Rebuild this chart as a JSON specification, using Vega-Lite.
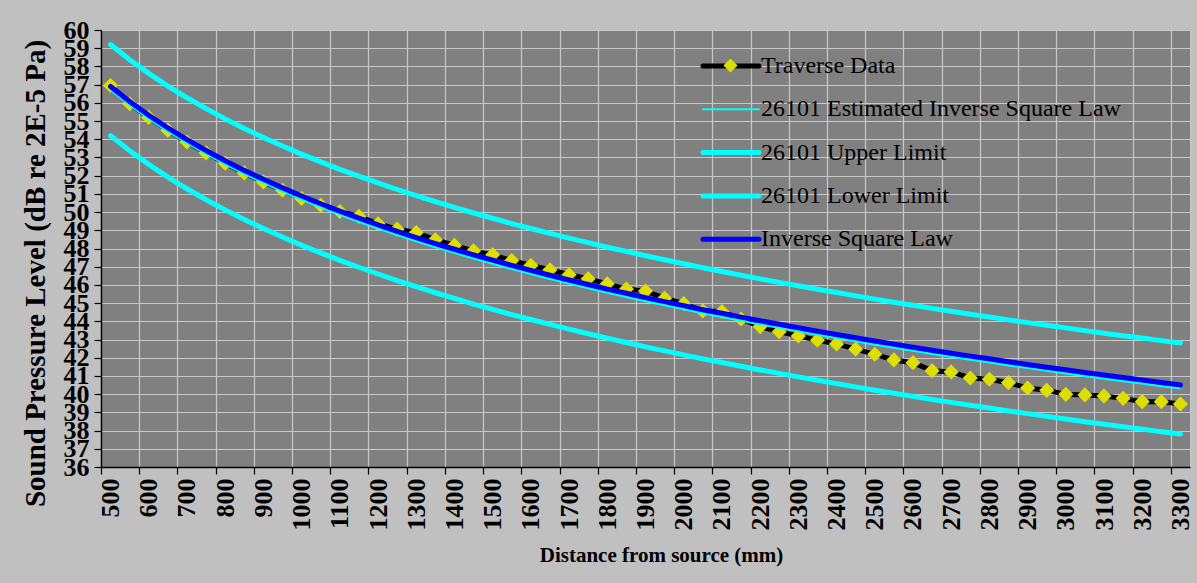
{
  "$schema": "https://vega.github.io/schema/vega-lite/v6.json",
  "width": 1089,
  "height": 437,
  "autosize": {"type": "none"},
  "padding": {"left": 101, "top": 30, "right": 7, "bottom": 116},
  "background": "#c0c0c0",
  "config": {
    "font": "Liberation Serif",
    "view": {"fill": "#808080", "stroke": "#c8c8c8", "strokeWidth": 1},
    "axis": {
      "gridColor": "#c8c8c8", "gridWidth": 1.2, "gridOpacity": 1,
      "domainColor": "#000000", "domainWidth": 1.5, "tickColor": "#000000", "tickWidth": 1.2,
      "labelColor": "#000000", "titleColor": "#000000",
      "labelFont": "Liberation Serif", "titleFont": "Liberation Serif",
      "labelFontWeight": "bold", "titleFontWeight": "bold"
    },
    "axisY": {
      "labelFontSize": 26, "labelPadding": 5, "tickSize": 7, "grid": true,
      "labelOverlap": false, "labelFlush": false,
      "titleFontSize": 29, "titleX": -66, "titleY": 243,
      "titleAlign": "center", "titleBaseline": "middle", "titleAngle": -90
    }
  },
  "data": {"values": [
    {"d":500,"t":56.95,"e":56.70,"i":56.90,"u":59.20,"l":54.20},
    {"d":550,"t":55.95,"e":55.87,"i":56.07,"u":58.37,"l":53.37},
    {"d":600,"t":55.20,"e":55.12,"i":55.32,"u":57.62,"l":52.62},
    {"d":650,"t":54.50,"e":54.42,"i":54.62,"u":56.92,"l":51.92},
    {"d":700,"t":53.85,"e":53.78,"i":53.98,"u":56.28,"l":51.28},
    {"d":750,"t":53.25,"e":53.18,"i":53.38,"u":55.68,"l":50.68},
    {"d":800,"t":52.68,"e":52.62,"i":52.82,"u":55.12,"l":50.12},
    {"d":850,"t":52.15,"e":52.09,"i":52.29,"u":54.59,"l":49.59},
    {"d":900,"t":51.65,"e":51.60,"i":51.80,"u":54.10,"l":49.10},
    {"d":950,"t":51.20,"e":51.13,"i":51.33,"u":53.63,"l":48.63},
    {"d":1000,"t":50.75,"e":50.68,"i":50.88,"u":53.18,"l":48.18},
    {"d":1050,"t":50.38,"e":50.26,"i":50.46,"u":52.76,"l":47.76},
    {"d":1100,"t":50.03,"e":49.85,"i":50.05,"u":52.35,"l":47.35},
    {"d":1150,"t":49.76,"e":49.47,"i":49.67,"u":51.97,"l":46.97},
    {"d":1200,"t":49.36,"e":49.10,"i":49.30,"u":51.60,"l":46.60},
    {"d":1250,"t":49.06,"e":48.74,"i":48.94,"u":51.24,"l":46.24},
    {"d":1300,"t":48.88,"e":48.40,"i":48.60,"u":50.90,"l":45.90},
    {"d":1350,"t":48.48,"e":48.07,"i":48.27,"u":50.57,"l":45.57},
    {"d":1400,"t":48.17,"e":47.76,"i":47.96,"u":50.26,"l":45.26},
    {"d":1450,"t":47.87,"e":47.45,"i":47.65,"u":49.95,"l":44.95},
    {"d":1500,"t":47.65,"e":47.16,"i":47.36,"u":49.66,"l":44.66},
    {"d":1550,"t":47.34,"e":46.87,"i":47.07,"u":49.37,"l":44.37},
    {"d":1600,"t":47.07,"e":46.60,"i":46.80,"u":49.10,"l":44.10},
    {"d":1650,"t":46.83,"e":46.33,"i":46.53,"u":48.83,"l":43.83},
    {"d":1700,"t":46.56,"e":46.07,"i":46.27,"u":48.57,"l":43.57},
    {"d":1750,"t":46.34,"e":45.82,"i":46.02,"u":48.32,"l":43.32},
    {"d":1800,"t":46.06,"e":45.57,"i":45.77,"u":48.07,"l":43.07},
    {"d":1850,"t":45.77,"e":45.34,"i":45.54,"u":47.84,"l":42.84},
    {"d":1900,"t":45.66,"e":45.10,"i":45.30,"u":47.60,"l":42.60},
    {"d":1950,"t":45.27,"e":44.88,"i":45.08,"u":47.38,"l":42.38},
    {"d":2000,"t":44.97,"e":44.66,"i":44.86,"u":47.16,"l":42.16},
    {"d":2050,"t":44.57,"e":44.44,"i":44.64,"u":46.94,"l":41.94},
    {"d":2100,"t":44.54,"e":44.24,"i":44.44,"u":46.74,"l":41.74},
    {"d":2150,"t":44.13,"e":44.03,"i":44.23,"u":46.53,"l":41.53},
    {"d":2200,"t":43.71,"e":43.83,"i":44.03,"u":46.33,"l":41.33},
    {"d":2250,"t":43.43,"e":43.64,"i":43.84,"u":46.14,"l":41.14},
    {"d":2300,"t":43.20,"e":43.45,"i":43.65,"u":45.95,"l":40.95},
    {"d":2350,"t":42.96,"e":43.26,"i":43.46,"u":45.76,"l":40.76},
    {"d":2400,"t":42.76,"e":43.08,"i":43.28,"u":45.58,"l":40.58},
    {"d":2450,"t":42.47,"e":42.90,"i":43.10,"u":45.40,"l":40.40},
    {"d":2500,"t":42.19,"e":42.72,"i":42.92,"u":45.22,"l":40.22},
    {"d":2550,"t":41.88,"e":42.55,"i":42.75,"u":45.05,"l":40.05},
    {"d":2600,"t":41.73,"e":42.38,"i":42.58,"u":44.88,"l":39.88},
    {"d":2650,"t":41.29,"e":42.21,"i":42.41,"u":44.71,"l":39.71},
    {"d":2700,"t":41.22,"e":42.05,"i":42.25,"u":44.55,"l":39.55},
    {"d":2750,"t":40.89,"e":41.89,"i":42.09,"u":44.39,"l":39.39},
    {"d":2800,"t":40.82,"e":41.74,"i":41.94,"u":44.24,"l":39.24},
    {"d":2850,"t":40.63,"e":41.58,"i":41.78,"u":44.08,"l":39.08},
    {"d":2900,"t":40.34,"e":41.43,"i":41.63,"u":43.93,"l":38.93},
    {"d":2950,"t":40.21,"e":41.28,"i":41.48,"u":43.78,"l":38.78},
    {"d":3000,"t":39.99,"e":41.14,"i":41.34,"u":43.64,"l":38.64},
    {"d":3050,"t":39.96,"e":40.99,"i":41.19,"u":43.49,"l":38.49},
    {"d":3100,"t":39.90,"e":40.85,"i":41.05,"u":43.35,"l":38.35},
    {"d":3150,"t":39.77,"e":40.71,"i":40.91,"u":43.21,"l":38.21},
    {"d":3200,"t":39.59,"e":40.58,"i":40.78,"u":43.08,"l":38.08},
    {"d":3250,"t":39.59,"e":40.44,"i":40.64,"u":42.94,"l":37.94},
    {"d":3300,"t":39.46,"e":40.31,"i":40.51,"u":42.81,"l":37.81}
  ]},
  "encoding": {
    "x": {
      "field": "d", "type": "quantitative",
      "scale": {"domain": [475, 3325], "nice": false, "zero": false},
      "axis": {
        "values": [475,575,675,775,875,975,1075,1175,1275,1375,1475,1575,1675,1775,1875,1975,2075,2175,2275,2375,2475,2575,2675,2775,2875,2975,3075,3175,3275],
        "labelExpr": "'' + (datum.value + 25)",
        "labelOffset": 9.55,
        "labelAngle": -90,
        "labelFontSize": 26,
        "labelOverlap": false,
        "labelFlush": false,
        "labelPadding": 4,
        "tickSize": 7,
        "grid": true,
        "title": "Distance from source (mm)",
        "titleFontSize": 21,
        "titlePadding": 14,
        "titleX": 560
      }
    }
  },
  "layer": [
    {
      "mark": {"type": "line", "strokeWidth": 5, "strokeCap": "butt"},
      "encoding": {
        "y": {
          "field": "t", "type": "quantitative",
          "title": "Sound Pressure Level (dB re 2E-5 Pa)",
          "scale": {"domain": [36, 60], "nice": false, "zero": false},
          "axis": {"values": [36,37,38,39,40,41,42,43,44,45,46,47,48,49,50,51,52,53,54,55,56,57,58,59,60]}
        },
        "color": {
          "datum": "Traverse Data",
          "scale": {
            "domain": ["Traverse Data", "26101 Estimated Inverse Square Law", "26101 Upper Limit", "26101 Lower Limit", "Inverse Square Law"],
            "range": ["#000000", "#00ffff", "#00ffff", "#00ffff", "#0000ff"]
          },
          "legend": {
            "orient": "none", "legendX": 618, "legendY": 24, "title": null,
            "padding": 0, "symbolType": "M-2,0H2", "symbolSize": 784,
            "labelFontSize": 24, "labelFont": "Liberation Serif", "labelFontWeight": "normal",
            "labelColor": "#000000", "labelLimit": 0, "rowPadding": 19.3, "labelOffset": 18,
            "symbolStrokeWidth": 5,
            "encode": {"symbols": {"update": {
              "strokeWidth": {"signal": "datum.value === '26101 Estimated Inverse Square Law' ? 2 : 5"},
              "strokeCap": {"value": "round"}
            }}}
          }
        }
      }
    },
    {
      "mark": {"type": "point", "shape": "diamond", "filled": true, "size": 230, "opacity": 1, "strokeWidth": 0},
      "encoding": {
        "y": {"field": "t", "type": "quantitative", "title": "Sound Pressure Level (dB re 2E-5 Pa)",
          "axis": {"values": [36,37,38,39,40,41,42,43,44,45,46,47,48,49,50,51,52,53,54,55,56,57,58,59,60]}},
        "fill": {
          "datum": "Traverse Data",
          "scale": {"range": ["#dede00"]},
          "legend": {
            "orient": "none", "legendX": 622, "legendY": 28, "title": null, "padding": 0,
            "symbolType": "diamond", "symbolSize": 200, "labelExpr": "''", "labelFontSize": 1,
            "symbolStrokeWidth": 0, "zindex": 2
          }
        }
      }
    },
    {
      "mark": {"type": "line", "strokeWidth": 2},
      "encoding": {
        "y": {"field": "e", "type": "quantitative", "title": "Sound Pressure Level (dB re 2E-5 Pa)",
          "axis": {"values": [36,37,38,39,40,41,42,43,44,45,46,47,48,49,50,51,52,53,54,55,56,57,58,59,60]}},
        "color": {"datum": "26101 Estimated Inverse Square Law"}
      }
    },
    {
      "mark": {"type": "line", "strokeWidth": 5, "strokeCap": "round"},
      "encoding": {
        "y": {"field": "u", "type": "quantitative", "title": "Sound Pressure Level (dB re 2E-5 Pa)",
          "axis": {"values": [36,37,38,39,40,41,42,43,44,45,46,47,48,49,50,51,52,53,54,55,56,57,58,59,60]}},
        "color": {"datum": "26101 Upper Limit"}
      }
    },
    {
      "mark": {"type": "line", "strokeWidth": 5, "strokeCap": "round"},
      "encoding": {
        "y": {"field": "l", "type": "quantitative", "title": "Sound Pressure Level (dB re 2E-5 Pa)",
          "axis": {"values": [36,37,38,39,40,41,42,43,44,45,46,47,48,49,50,51,52,53,54,55,56,57,58,59,60]}},
        "color": {"datum": "26101 Lower Limit"}
      }
    },
    {
      "mark": {"type": "line", "strokeWidth": 5, "strokeCap": "round"},
      "encoding": {
        "y": {"field": "i", "type": "quantitative", "title": "Sound Pressure Level (dB re 2E-5 Pa)",
          "axis": {"values": [36,37,38,39,40,41,42,43,44,45,46,47,48,49,50,51,52,53,54,55,56,57,58,59,60]}},
        "color": {"datum": "Inverse Square Law"}
      }
    }
  ]
}
